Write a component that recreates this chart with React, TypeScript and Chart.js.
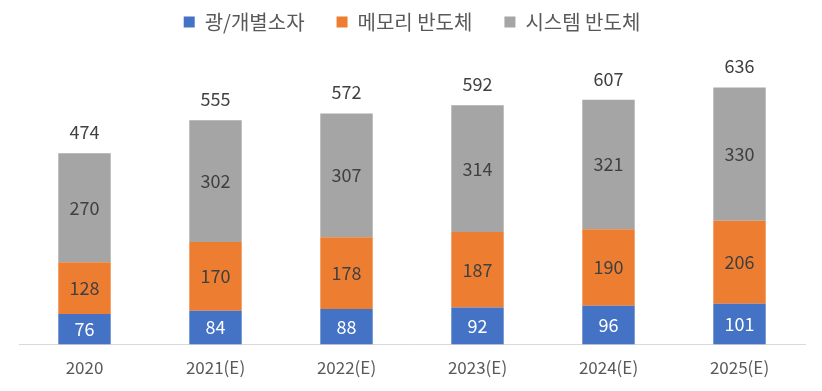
import React, { useEffect, useRef } from "react";
import { Chart, registerables } from "chart.js";

Chart.register(...registerables);

const categories = ["2020", "2021(E)", "2022(E)", "2023(E)", "2024(E)", "2025(E)"];
const discrete = [76, 84, 88, 92, 96, 101];
const memory = [128, 170, 178, 187, 190, 206];
const system = [270, 302, 307, 314, 321, 330];
const totals = [474, 555, 572, 592, 607, 636];
const seriesNames = ["광/개별소자", "메모리 반도체", "시스템 반도체"];
const seriesColors = ["#4472C4", "#ED7D31", "#A5A5A5"];
const labelColors = ["#FFFFFF", "#404040", "#404040"];

const FONT = "'Noto Sans CJK KR', 'Noto Sans', sans-serif";

const labelPlugin = {
  id: "segLabels",
  afterDatasetsDraw(chart: any) {
    const ctx = chart.ctx;
    ctx.save();
    ctx.textAlign = "center";
    ctx.textBaseline = "middle";
    ctx.font = `18px ${FONT}`;
    chart.data.datasets.forEach((ds: any, di: number) => {
      const meta = chart.getDatasetMeta(di);
      meta.data.forEach((el: any, i: number) => {
        const y = (el.y + el.base) / 2;
        ctx.fillStyle = labelColors[di];
        ctx.fillText(String(ds.data[i]), el.x, y);
      });
    });
    const last = chart.getDatasetMeta(chart.data.datasets.length - 1);
    last.data.forEach((el: any, i: number) => {
      ctx.fillStyle = "#404040";
      ctx.fillText(String(totals[i]), el.x, el.y - 21);
    });
    ctx.restore();
  },
};

export default function App() {
  const ref = useRef<HTMLCanvasElement | null>(null);
  useEffect(() => {
    if (!ref.current) return;
    const data = [discrete, memory, system];
    const chart = new Chart(ref.current, {
      type: "bar",
      data: {
        labels: categories,
        datasets: data.map((d, i) => ({
          label: seriesNames[i],
          data: d,
          backgroundColor: seriesColors[i],
          borderWidth: 0,
          categoryPercentage: 1,
          barPercentage: 0.4,
        })),
      },
      options: {
        animation: false,
        responsive: false,
        maintainAspectRatio: false,
        layout: { padding: { left: 19, right: 17, top: -20, bottom: 0 } },
        plugins: {
          legend: {
            position: "top",
            labels: {
              boxWidth: 11,
              boxHeight: 11,
              padding: 32,
              color: "#595959",
              font: { family: FONT, size: 20 },
            },
          },
          tooltip: { enabled: false },
        },
        scales: {
          x: {
            stacked: true,
            grid: { display: false, drawTicks: false },
            border: { display: true, color: "#D9D9D9", width: 1 },
            ticks: { color: "#595959", font: { family: FONT, size: 17 }, padding: 13 },
          },
          y: {
            stacked: true,
            display: false,
            min: 0,
            max: 750,
          },
        },
      },
      plugins: [labelPlugin],
    });
    return () => chart.destroy();
  }, []);
  return (
    <div style={{ position: "fixed", left: 0, top: 0, width: 822, height: 391, background: "#fff" }}>
      <canvas ref={ref} width={822} height={391} style={{ width: 822, height: 391 }} />
    </div>
  );
}
